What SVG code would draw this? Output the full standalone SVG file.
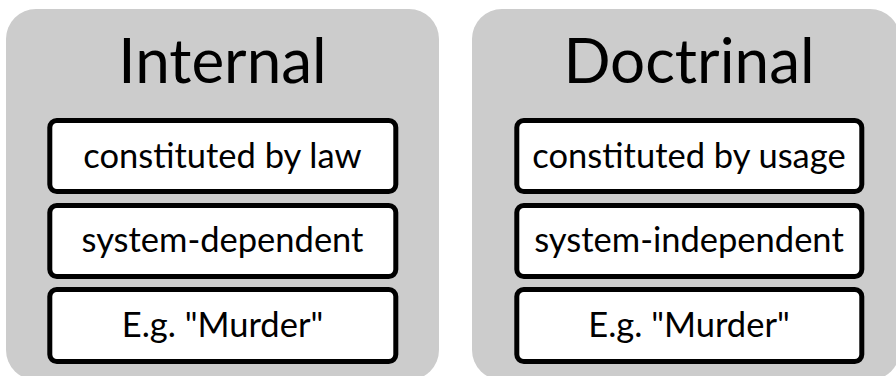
<svg xmlns="http://www.w3.org/2000/svg" width="896" height="376" viewBox="0 0 896 376">
  <style>
    .panel { fill: #cccccc; }
    .item { fill: #ffffff; stroke: #000000; stroke-width: 5; }
    .title { font-family: Lato, "Open Sans", "Liberation Sans", sans-serif; font-size: 62px; fill: #000000; text-anchor: middle; }
    .label { font-family: Lato, "Open Sans", "Liberation Sans", sans-serif; font-size: 34.5px; fill: #000000; text-anchor: middle; }
  </style>
  <rect width="896" height="376" fill="#ffffff"/>

  <!-- Internal column -->
  <g id="internal">
    <rect class="panel" x="6" y="9" width="433" height="371" rx="30" ry="30"/>
    <text class="title" x="222.5" y="83">Internal</text>
  </g>
  <g id="internal-law">
    <rect class="item" x="49.8" y="120.5" width="346" height="71" rx="7" ry="7"/>
    <text class="label" x="222.5" y="168">constituted by law</text>
  </g>
  <g id="internal-dependent">
    <rect class="item" x="49.8" y="205.5" width="346" height="71" rx="7" ry="7"/>
    <text class="label" x="222.5" y="252">system-dependent</text>
  </g>
  <g id="internal-example">
    <rect class="item" x="49.8" y="289.5" width="346" height="72" rx="7" ry="7"/>
    <text class="label" x="222.5" y="337">E.g. "Murder"</text>
  </g>

  <!-- Doctrinal column -->
  <g id="doctrinal">
    <rect class="panel" x="472" y="9" width="428" height="371" rx="30" ry="30"/>
    <text class="title" x="689" y="83">Doctrinal</text>
  </g>
  <g id="doctrinal-usage">
    <rect class="item" x="516.8" y="120.5" width="345" height="71" rx="7" ry="7"/>
    <text class="label" x="689" y="168">constituted by usage</text>
  </g>
  <g id="doctrinal-independent">
    <rect class="item" x="516.8" y="205.5" width="345" height="71" rx="7" ry="7"/>
    <text class="label" x="689" y="252">system-independent</text>
  </g>
  <g id="doctrinal-example">
    <rect class="item" x="516.8" y="289.5" width="345" height="72" rx="7" ry="7"/>
    <text class="label" x="689" y="337">E.g. "Murder"</text>
  </g>

  <!-- no connectors between the columns -->
  <g id="connectors"/>
</svg>
